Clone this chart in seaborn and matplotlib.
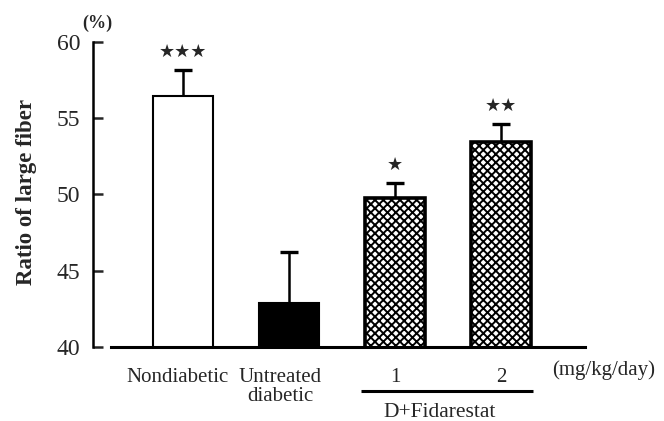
import matplotlib
matplotlib.use("Agg")
import matplotlib.pyplot as plt
import seaborn as sns
import pandas as pd
import numpy as np
from matplotlib.transforms import blended_transform_factory, ScaledTranslation

# ---- data ----
groups = ["Nondiabetic", "Untreated\ndiabetic", "1", "2"]
means = [56.45, 42.9, 49.75, 53.4]
sems = [1.7, 3.3, 1.0, 1.2]
stars = ["★★★", "", "★", "★★"]
yticks = [40, 45, 50, 55, 60]
y_label = "Ratio of large fiber"
y_unit = "(%)"
dose_unit = "(mg/kg/day)"
group_label = "D+Fidarestat"

sns.set_style("white")
plt.rcParams["font.family"] = ["Liberation Serif", "DejaVu Sans"]
plt.rcParams["hatch.linewidth"] = 1.4

df = pd.DataFrame({"group": groups, "value": means})

fig = plt.figure(figsize=(6.64, 4.21), dpi=100)
ax = fig.add_axes([0.1401, 0.1758, 0.75, 0.7253])

sns.barplot(data=df, x="group", y="value", order=groups, color="white",
            width=0.56, errorbar=None, ax=ax, saturation=1)

faces = ["white", "black", "white", "white"]
hatches = [None, None, "xxxx", "xxxx"]
lws = [1.5, 1.5, 2.6, 2.6]
for p, fc, h, lw in zip(ax.patches, faces, hatches, lws):
    p.set_facecolor(fc)
    p.set_edgecolor("black")
    p.set_linewidth(lw)
    p.set_zorder(2)
    if h:
        p.set_hatch(h)

x = np.arange(len(groups))
ax.errorbar(x, means, yerr=sems, fmt="none",
            ecolor="black", elinewidth=1.8, capsize=6.5, capthick=2.4,
            zorder=1)

for i, s in enumerate(stars):
    if s:
        ax.annotate(s, (x[i], means[i] + sems[i]), xytext=(0, 13),
                    textcoords="offset points", ha="center", va="center",
                    fontsize=13, family=["DejaVu Sans"], annotation_clip=False)

ax.set_xlim(-0.85, 3.85)
ax.set_ylim(40, 60)
ax.set_yticks(yticks)
ax.set_yticklabels([str(t) for t in yticks])
ax.tick_params(axis="y", direction="in", length=7, width=1.8, pad=9,
               labelsize=17, left=True)
ax.tick_params(axis="x", length=0, pad=15, labelsize=15)
for lab, dx in zip(ax.get_xticklabels(), [-6, -9, 0, 0]):
    lab.set_linespacing(1.0)
    lab.set_transform(lab.get_transform() +
                      ScaledTranslation(dx / 100, 0, fig.dpi_scale_trans))

ax.set_xlabel("")
ax.set_ylabel(y_label, fontsize=16.5, fontweight="bold")
ax.yaxis.set_label_coords(-0.112, 0.508)

for side in ["top", "right"]:
    ax.spines[side].set_visible(False)
ax.spines["left"].set_linewidth(1.8)
ax.spines["left"].set_color("black")
ax.spines["left"].set_bounds(40, 60)
ax.spines["bottom"].set_linewidth(2.2)
ax.spines["bottom"].set_color("black")
ax.spines["bottom"].set_bounds(-0.68, 3.79)
ax.spines["bottom"].set_zorder(3)
ax.grid(False)

tr = blended_transform_factory(ax.transData, ax.transAxes)
ax.text(-0.81, 1.061, y_unit, transform=tr, ha="center", va="center",
        fontsize=13, fontweight="bold", clip_on=False)
ax.text(3.97, -0.075, dose_unit, transform=tr, ha="center", va="center",
        fontsize=15, clip_on=False)
ax.plot([x[2] - 0.32, x[3] + 0.30], [-0.145, -0.145], transform=tr,
        color="black", lw=2.2, clip_on=False, solid_capstyle="butt")
ax.text(2.42, -0.215, group_label, transform=tr, ha="center", va="center",
        fontsize=15.5, clip_on=False)

fig.savefig("out.png", dpi=100)
